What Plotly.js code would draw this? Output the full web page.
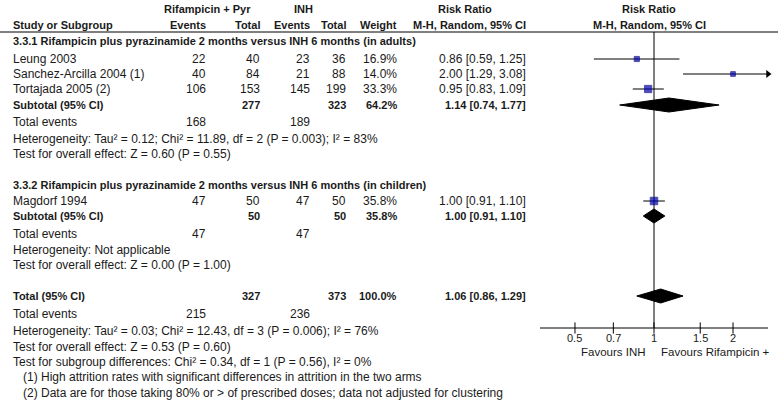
<!DOCTYPE html>
<html>
<head>
<meta charset="utf-8">
<script src="https://cdn.plot.ly/plotly-3.0.1.min.js"></script>
<style>
  body { margin: 0; background: #fff; }
  #graph { width: 778px; height: 416px; }
</style>
</head>
<body>
<div id="graph"></div>
<script>
// studies
const studies = ["Leung 2003", "Sanchez-Arcilla 2004 (1)", "Tortajada 2005 (2)", "Magdorf 1994"];
const studyGroup = [0, 0, 0, 1];
const rifEvents = [22, 40, 106, 47];
const rifTotal = [40, 84, 153, 50];
const inhEvents = [23, 21, 145, 47];
const inhTotal = [36, 88, 199, 50];
const weights = [16.9, 14.0, 33.3, 35.8];
const rr = [0.86, 2.00, 0.95, 1.00];
const rrLo = [0.59, 1.29, 0.83, 0.91];
const rrHi = [1.25, 3.08, 1.09, 1.10];

// subgroups
const groupNames = [
    "3.3.1 Rifampicin plus pyrazinamide 2 months versus INH 6 months (in adults)",
    "3.3.2 Rifampicin plus pyrazinamide 2 months versus INH 6 months (in children)"
];
const groupRifTotal = [277, 50];
const groupInhTotal = [323, 50];
const groupWeight = [64.2, 35.8];
const groupRifEvents = [168, 47];
const groupInhEvents = [189, 47];
const groupRR = [1.14, 1.00];
const groupLo = [0.74, 0.91];
const groupHi = [1.77, 1.10];
const groupHet = [
    "Heterogeneity: Tau² = 0.12; Chi² = 11.89, df = 2 (P = 0.003); I² = 83%",
    "Heterogeneity: Not applicable"
];
const groupTest = [
    "Test for overall effect: Z = 0.60 (P = 0.55)",
    "Test for overall effect: Z = 0.00 (P = 1.00)"
];

// overall
const totalRif = 327, totalInh = 373, totalWeight = 100.0;
const totalRifEvents = 215, totalInhEvents = 236;
const totalRR = 1.06, totalLo = 0.86, totalHi = 1.29;
const totalHet = "Heterogeneity: Tau² = 0.03; Chi² = 12.43, df = 3 (P = 0.006); I² = 76%";
const totalTest = "Test for overall effect: Z = 0.53 (P = 0.60)";
const subgroupTest = "Test for subgroup differences: Chi² = 0.34, df = 1 (P = 0.56), I² = 0%";
const footnotes = [
    "(1) High attrition rates with significant differences in attrition in the two arms",
    "(2) Data are for those taking 80% or > of prescribed doses; data not adjusted for clustering"
];

// axis
const tickVals = [0.5, 0.7, 1, 1.5, 2];
const favours = ["Favours INH", "Favours Rifampicin +"];

// ---- layout (pixel rows / columns) ----
const W = 778, H = 416;
const col = { study: 11, e1: 208, n1: 262, e2: 312, n2: 348, w: 399, rr: 528, foot: 21 };
const studyRows = [59, 74, 89, 201];
const groupHeadRows = [41, 185];
const subRows = [105, 216];
const evRows = [122, 234];
const hetRows = [139, 250];
const testRows = [154, 265];
const totalRow = 296;
const axisY = 328;
const xMax = Math.E;
const xMin = 1 / Math.E;

const font = "Liberation Sans, Arial, sans-serif";
const textColor = "#1a1a1a";
let ann = [];

function txt(x, y, s, anchor, bold, size) {
    ann.push({
        xref: "paper", yref: "y",
        x: x / W, y: y,
        text: bold ? "<b>" + s + "</b>" : s,
        xanchor: anchor, yanchor: "middle",
        showarrow: false,
        font: { family: font, size: size || (bold ? 11 : 12), color: textColor }
    });
}

function ci(r, l, h) {
    return r.toFixed(2) + " [" + l.toFixed(2) + ", " + h.toFixed(2) + "]";
}

// headers
txt(208, 9, "Rifampicin + Pyr", "center", true);
txt(303, 9, "INH", "center", true);
txt(465, 9, "Risk Ratio", "center", true);
txt(649, 9, "Risk Ratio", "center", true);
txt(col.study, 25, "Study or Subgroup", "left", true);
txt(col.e1, 25, "Events", "right", true);
txt(col.n1, 25, "Total", "right", true);
txt(col.e2, 25, "Events", "right", true);
txt(col.n2, 25, "Total", "right", true);
txt(col.w, 25, "Weight", "right", true);
txt(col.rr, 25, "M-H, Random, 95% CI", "right", true);
txt(649, 25, "M-H, Random, 95% CI", "center", true);

// study rows
for (let i = 0; i < studies.length; i++) {
    let y = studyRows[i];
    txt(col.study, y, studies[i], "left");
    txt(col.e1, y, String(rifEvents[i]), "right");
    txt(col.n1, y, String(rifTotal[i]), "right");
    txt(col.e2, y, String(inhEvents[i]), "right");
    txt(col.n2, y, String(inhTotal[i]), "right");
    txt(col.w, y, weights[i].toFixed(1) + "%", "right");
    txt(col.rr, y, ci(rr[i], rrLo[i], rrHi[i]), "right");
}

// subgroup rows
for (let g = 0; g < groupNames.length; g++) {
    txt(col.study, groupHeadRows[g], groupNames[g], "left", true);
    txt(col.study, subRows[g], "Subtotal (95% CI)", "left", true);
    txt(col.n1, subRows[g], String(groupRifTotal[g]), "right", true);
    txt(col.n2, subRows[g], String(groupInhTotal[g]), "right", true);
    txt(col.w, subRows[g], groupWeight[g].toFixed(1) + "%", "right", true);
    txt(col.rr, subRows[g], ci(groupRR[g], groupLo[g], groupHi[g]), "right", true);
    txt(col.study, evRows[g], "Total events", "left");
    txt(col.e1, evRows[g], String(groupRifEvents[g]), "right");
    txt(col.e2, evRows[g], String(groupInhEvents[g]), "right");
    txt(col.study, hetRows[g], groupHet[g], "left");
    txt(col.study, testRows[g], groupTest[g], "left");
}

// overall
txt(col.study, totalRow, "Total (95% CI)", "left", true);
txt(col.n1, totalRow, String(totalRif), "right", true);
txt(col.n2, totalRow, String(totalInh), "right", true);
txt(col.w, totalRow, totalWeight.toFixed(1) + "%", "right", true);
txt(col.rr, totalRow, ci(totalRR, totalLo, totalHi), "right", true);
txt(col.study, 314, "Total events", "left");
txt(col.e1, 314, String(totalRifEvents), "right");
txt(col.e2, 314, String(totalInhEvents), "right");
txt(col.study, 331, totalHet, "left");
txt(col.study, 347, totalTest, "left");
txt(col.study, 362, subgroupTest, "left");
txt(col.foot, 377, footnotes[0], "left");
txt(col.foot, 393, footnotes[1], "left");

// tick labels, placed through the x axis scale (log axis -> log10 position)
tickVals.forEach(v => {
    ann.push({
        xref: "x", yref: "y",
        x: Math.log10(v), y: axisY + 10,
        text: String(v), xanchor: "center", yanchor: "middle",
        showarrow: false, borderpad: 0,
        font: { family: font, size: 11, color: textColor }
    });
});

// favours labels
ann.push({
    xref: "paper", yref: "y", x: 647 / W, y: axisY + 24, text: favours[0],
    xanchor: "right", yanchor: "middle", showarrow: false, borderpad: 0,
    font: { family: font, size: 11.5, color: textColor }
});
ann.push({
    xref: "paper", yref: "y", x: 660 / W, y: axisY + 24, text: favours[1],
    xanchor: "left", yanchor: "middle", showarrow: false, borderpad: 0,
    font: { family: font, size: 11.5, color: textColor }
});

// ---- traces ----
let traces = [];

// line of no effect
traces.push({
    x: [1, 1], y: [32, axisY], mode: "lines", type: "scatter",
    line: { color: "#000", width: 1 }, hoverinfo: "skip"
});

// axis line
traces.push({
    x: [xMin, xMax], y: [axisY, axisY], mode: "lines", type: "scatter",
    line: { color: "#000", width: 1 }, hoverinfo: "skip", cliponaxis: false
});

// tick marks crossing the axis
traces.push({
    x: tickVals, y: tickVals.map(() => axisY), mode: "markers", type: "scatter",
    marker: { symbol: "line-ns-open", size: 8, color: "#000", line: { color: "#000", width: 1 } },
    hoverinfo: "skip", cliponaxis: false
});

// CI whiskers (clipped at axis end, arrow when beyond)
for (let i = 0; i < studies.length; i++) {
    let lo = Math.max(rrLo[i], xMin);
    let hi = Math.min(rrHi[i], xMax);
    traces.push({
        x: [lo, hi], y: [studyRows[i], studyRows[i]], mode: "lines", type: "scatter",
        line: { color: "#000", width: 1 }, hoverinfo: "skip", cliponaxis: false
    });
    if (rrHi[i] > xMax) {
        traces.push({
            x: [xMax], y: [studyRows[i]], mode: "markers", type: "scatter",
            marker: { symbol: "triangle-right", size: 7, color: "#000" },
            hoverinfo: "skip", cliponaxis: false
        });
    }
}

// study squares, sized by weight
traces.push({
    x: rr, y: studyRows, mode: "markers", type: "scatter",
    marker: {
        symbol: "square",
        size: weights.map(w => 1.25 * Math.sqrt(w)),
        color: "#0000B4",
        line: { color: "#000080", width: 1 }
    },
    hoverinfo: "skip", cliponaxis: false
});

// diamonds
function diamond(est, lo, hi, y) {
    traces.push({
        x: [lo, est, hi, est, lo], y: [y, y - 7, y, y + 7, y],
        mode: "lines", type: "scatter", fill: "toself",
        fillcolor: "#000", line: { color: "#000", width: 1 },
        hoverinfo: "skip"
    });
}
for (let g = 0; g < groupNames.length; g++) {
    diamond(groupRR[g], groupLo[g], groupHi[g], subRows[g]);
}
diamond(totalRR, totalLo, totalHi, totalRow);

let layout = {
    width: W, height: H,
    margin: { l: 0, r: 0, t: 0, b: 0 },
    paper_bgcolor: "#fff", plot_bgcolor: "rgba(0,0,0,0)",
    showlegend: false,
    xaxis: {
        type: "log",
        range: [Math.log10(xMin), Math.log10(xMax)],
        domain: [540 / W, 768 / W],
        visible: false,
        showgrid: false, zeroline: false, fixedrange: true
    },
    yaxis: {
        range: [H, 0], domain: [0, 1],
        visible: false, showgrid: false, zeroline: false, fixedrange: true
    },
    shapes: [{
        type: "line", xref: "paper", yref: "y",
        x0: 0, x1: 1, y0: 32, y1: 32,
        line: { color: "#000", width: 1 }
    }],
    annotations: ann
};

Plotly.newPlot("graph", traces, layout, { displayModeBar: false, staticPlot: true });
</script>
</body>
</html>
